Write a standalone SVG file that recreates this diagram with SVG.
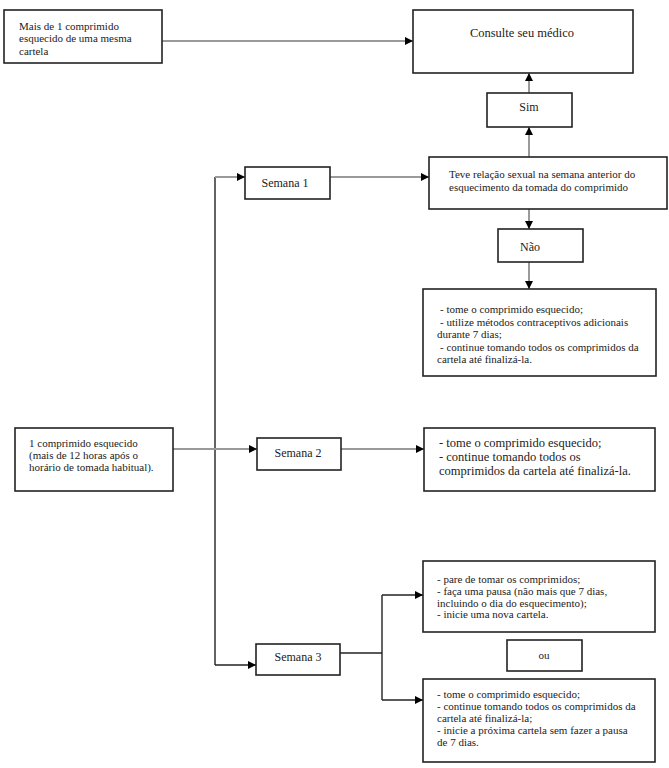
<svg xmlns="http://www.w3.org/2000/svg" width="669" height="768" viewBox="0 0 669 768">
<defs>
<marker id="ah" viewBox="0 0 10 10" refX="10" refY="5" markerWidth="8" markerHeight="8" markerUnits="userSpaceOnUse" orient="auto">
<path d="M0,0 L10,5 L0,10 z" fill="#000"/>
</marker>
<style>
.box{fill:#fff;stroke:#222;stroke-width:1.6}
.t{font-family:"Liberation Serif","Times New Roman",serif;font-size:11px;fill:#222}
.m{font-family:"Liberation Serif","Times New Roman",serif;font-size:12px;fill:#222}
.l{font-family:"Liberation Serif","Times New Roman",serif;font-size:12.5px;fill:#222}
.g{fill:none;stroke:#9a9a9a;stroke-width:2}
.k{fill:none;stroke:#222;stroke-width:1.4}
</style>
</defs>
<rect width="669" height="768" fill="#fff"/>
<g id="connectors">
<line class="g" x1="162" y1="41" x2="413" y2="41" marker-end="url(#ah)"/>
<line class="g" x1="529" y1="93" x2="529" y2="73" marker-end="url(#ah)"/>
<line class="g" x1="529" y1="157" x2="529" y2="127" marker-end="url(#ah)"/>
<line class="g" x1="529" y1="209" x2="529" y2="229" stroke="#666" marker-end="url(#ah)"/>
<line class="g" x1="529" y1="262" x2="529" y2="289" stroke="#666" marker-end="url(#ah)"/>
<line class="k" x1="215" y1="177" x2="215" y2="665"/>
<line class="g" x1="215" y1="177" x2="245" y2="177" marker-end="url(#ah)"/>
<line class="g" x1="330" y1="177" x2="429" y2="177" marker-end="url(#ah)"/>
<line class="g" x1="173" y1="449" x2="257" y2="449" marker-end="url(#ah)"/>
<line class="g" x1="341" y1="449" x2="424" y2="449" marker-end="url(#ah)"/>
<line class="k" x1="215" y1="665" x2="256" y2="665" marker-end="url(#ah)"/>
<line class="k" x1="340" y1="653" x2="382" y2="653"/>
<line class="k" x1="382" y1="595" x2="382" y2="700"/>
<line class="k" x1="382" y1="595" x2="423" y2="595" marker-end="url(#ah)"/>
<line class="k" x1="382" y1="700" x2="423" y2="700" marker-end="url(#ah)"/>
</g>
<g id="mais">
<rect class="box" x="4" y="10" width="158" height="53"/>
<text class="t" x="19"><tspan x="19" y="30">Mais de 1 comprimido</tspan><tspan x="19" y="42">esquecido de uma mesma</tspan><tspan x="19" y="55">cartela</tspan></text>
</g>
<g id="consulte">
<rect class="box" x="413" y="10" width="220" height="63"/>
<text class="l" x="522" y="37" text-anchor="middle">Consulte seu médico</text>
</g>
<g id="sim">
<rect class="box" x="487" y="93" width="85" height="34"/>
<text class="m" x="529" y="111" text-anchor="middle">Sim</text>
</g>
<g id="teve">
<rect class="box" x="429" y="157" width="238" height="52"/>
<text class="t"><tspan x="449" y="178">Teve relação sexual na semana anterior do</tspan><tspan x="449" y="191">esquecimento da tomada do comprimido</tspan></text>
</g>
<g id="nao">
<rect class="box" x="498" y="229" width="85" height="33"/>
<text class="m" x="530" y="251" text-anchor="middle">Não</text>
</g>
<g id="sem1-result">
<rect class="box" x="423" y="289" width="233" height="87"/>
<text class="t"><tspan x="440" y="313">- tome o comprimido esquecido;</tspan><tspan x="440" y="326">- utilize métodos contraceptivos adicionais</tspan><tspan x="437" y="338">durante 7 dias;</tspan><tspan x="440" y="351">- continue tomando todos os comprimidos da</tspan><tspan x="437" y="363">cartela até finalizá-la.</tspan></text>
</g>
<g id="semana1">
<rect class="box" x="245" y="167" width="85" height="32"/>
<text class="m" x="285" y="187" text-anchor="middle">Semana 1</text>
</g>
<g id="um-comprimido">
<rect class="box" x="15" y="428" width="158" height="63"/>
<text class="t"><tspan x="29" y="447">1 comprimido esquecido</tspan><tspan x="29" y="459">(mais de 12 horas após o</tspan><tspan x="29" y="471">horário de tomada habitual).</tspan></text>
</g>
<g id="semana2">
<rect class="box" x="257" y="438" width="84" height="32"/>
<text class="m" x="298" y="457" text-anchor="middle">Semana 2</text>
</g>
<g id="sem2-result">
<rect class="box" x="424" y="428" width="231" height="63"/>
<text class="l"><tspan x="439" y="447">- tome o comprimido esquecido;</tspan><tspan x="439" y="461">- continue tomando todos os</tspan><tspan x="439" y="475">comprimidos da cartela até finalizá-la.</tspan></text>
</g>
<g id="semana3">
<rect class="box" x="256" y="644" width="84" height="31"/>
<text class="m" x="298" y="661" text-anchor="middle">Semana 3</text>
</g>
<g id="sem3-a">
<rect class="box" x="423" y="561" width="232" height="71"/>
<text class="t"><tspan x="437" y="583">- pare de tomar os comprimidos;</tspan><tspan x="437" y="595">- faça uma pausa (não mais que 7 dias,</tspan><tspan x="437" y="607">incluindo o dia do esquecimento);</tspan><tspan x="437" y="618">- inicie uma nova cartela.</tspan></text>
</g>
<g id="ou">
<rect class="box" x="507" y="640" width="75" height="31"/>
<text class="t" x="544" y="659" text-anchor="middle">ou</text>
</g>
<g id="sem3-b">
<rect class="box" x="423" y="679" width="232" height="83"/>
<text class="t"><tspan x="437" y="698">- tome o comprimido esquecido;</tspan><tspan x="437" y="710">- continue tomando todos os comprimidos da</tspan><tspan x="437" y="722">cartela até finalizá-la;</tspan><tspan x="437" y="734">- inicie a próxima cartela sem fazer a pausa</tspan><tspan x="437" y="746">de 7 dias.</tspan></text>
</g>
</svg>
